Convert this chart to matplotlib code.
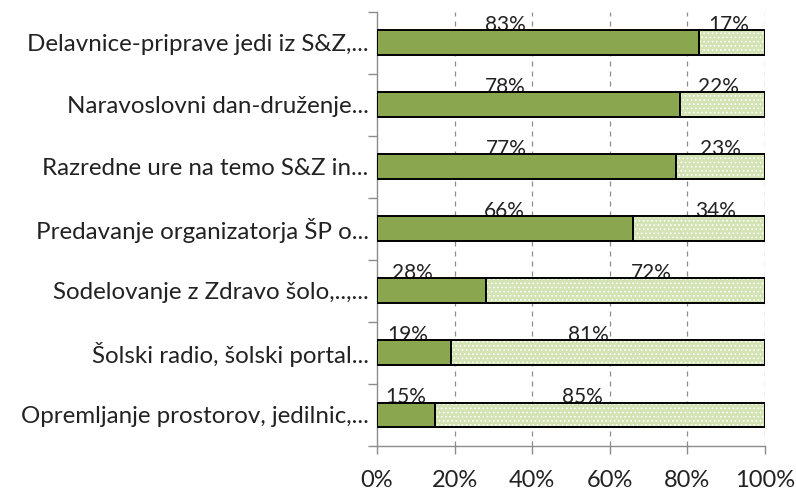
import matplotlib
matplotlib.use("Agg")
import matplotlib.pyplot as plt
import numpy as np

categories = [
    "Delavnice-priprave jedi iz S&Z,...",
    "Naravoslovni dan-druženje...",
    "Razredne ure na temo S&Z in...",
    "Predavanje organizatorja ŠP o...",
    "Sodelovanje z Zdravo šolo,..,...",
    "Šolski radio, šolski portal...",
    "Opremljanje prostorov, jedilnic,...",
]
yes_vals = [83, 78, 77, 66, 28, 19, 15]
no_vals = [17, 22, 23, 34, 72, 81, 85]
# label anchor positions (percent along x) as placed in the original chart
yes_label_x = [33, 33, 33.3, 32.8, 9.1, 7.8, 7.5]
no_label_x = [90.6, 87.9, 88.4, 87.3, 70.8, 54.5, 53]
xtick_vals = [0, 20, 40, 60, 80, 100]
xtick_labels = ["0%", "20%", "40%", "60%", "80%", "100%"]

plt.rcParams['font.family'] = ['Lato', 'DejaVu Sans']
plt.rcParams['hatch.linewidth'] = 0.7

dark = "#8AA64F"
light = "#D3E3B3"
grid_c = "#8C8C8C"

fig = plt.figure(figsize=(7.96, 4.9), dpi=100)
ax = fig.add_axes([377/796, 1-446/490, (765-377)/796, (446-11.5)/490])

y = np.arange(len(categories))
h = 0.4
ax.barh(y, yes_vals, height=h, color=dark, edgecolor="black", linewidth=1.4, zorder=3)
# light segment: face with white dot hatch, then black outline on top
ax.barh(y, no_vals, left=yes_vals, height=h, color=light, edgecolor="white",
        hatch="....", linewidth=0, zorder=3)
ax.barh(y, no_vals, left=yes_vals, height=h, color="none", edgecolor="black",
        linewidth=1.4, zorder=4)

for i in range(len(categories)):
    ax.text(yes_label_x[i], y[i] - h/2 + 0.015, f"{yes_vals[i]}%", ha="center",
            va="baseline", fontsize=15, color="#222222", zorder=2)
    ax.text(no_label_x[i], y[i] - h/2 + 0.015, f"{no_vals[i]}%", ha="center",
            va="baseline", fontsize=15, color="#222222", zorder=2)

ax.set_xlim(0, 100)
ax.set_ylim(len(categories) - 0.5, -0.5)
ax.set_xticks(xtick_vals)
ax.set_xticklabels(xtick_labels, fontsize=17, color="#222222")
ax.set_yticks(y)
ax.set_yticklabels(categories, fontsize=17.4, color="#222222")
ax.tick_params(axis="y", which="major", length=0, pad=6)
ax.set_yticks(np.arange(-0.5, len(categories) + 0.5, 1), minor=True)
ax.tick_params(axis="y", which="minor", length=6.5, color=grid_c, width=1)
ax.tick_params(axis="x", length=6, color=grid_c, width=1, pad=11)

for xv in xtick_vals[1:]:
    ax.axvline(xv, color=grid_c, linestyle=(0, (4, 4)), linewidth=0.9, zorder=1)

for s in ["top", "right"]:
    ax.spines[s].set_visible(False)
for s in ["left", "bottom"]:
    ax.spines[s].set_color(grid_c)
    ax.spines[s].set_linewidth(1)

fig.savefig("out.png", dpi=100)
